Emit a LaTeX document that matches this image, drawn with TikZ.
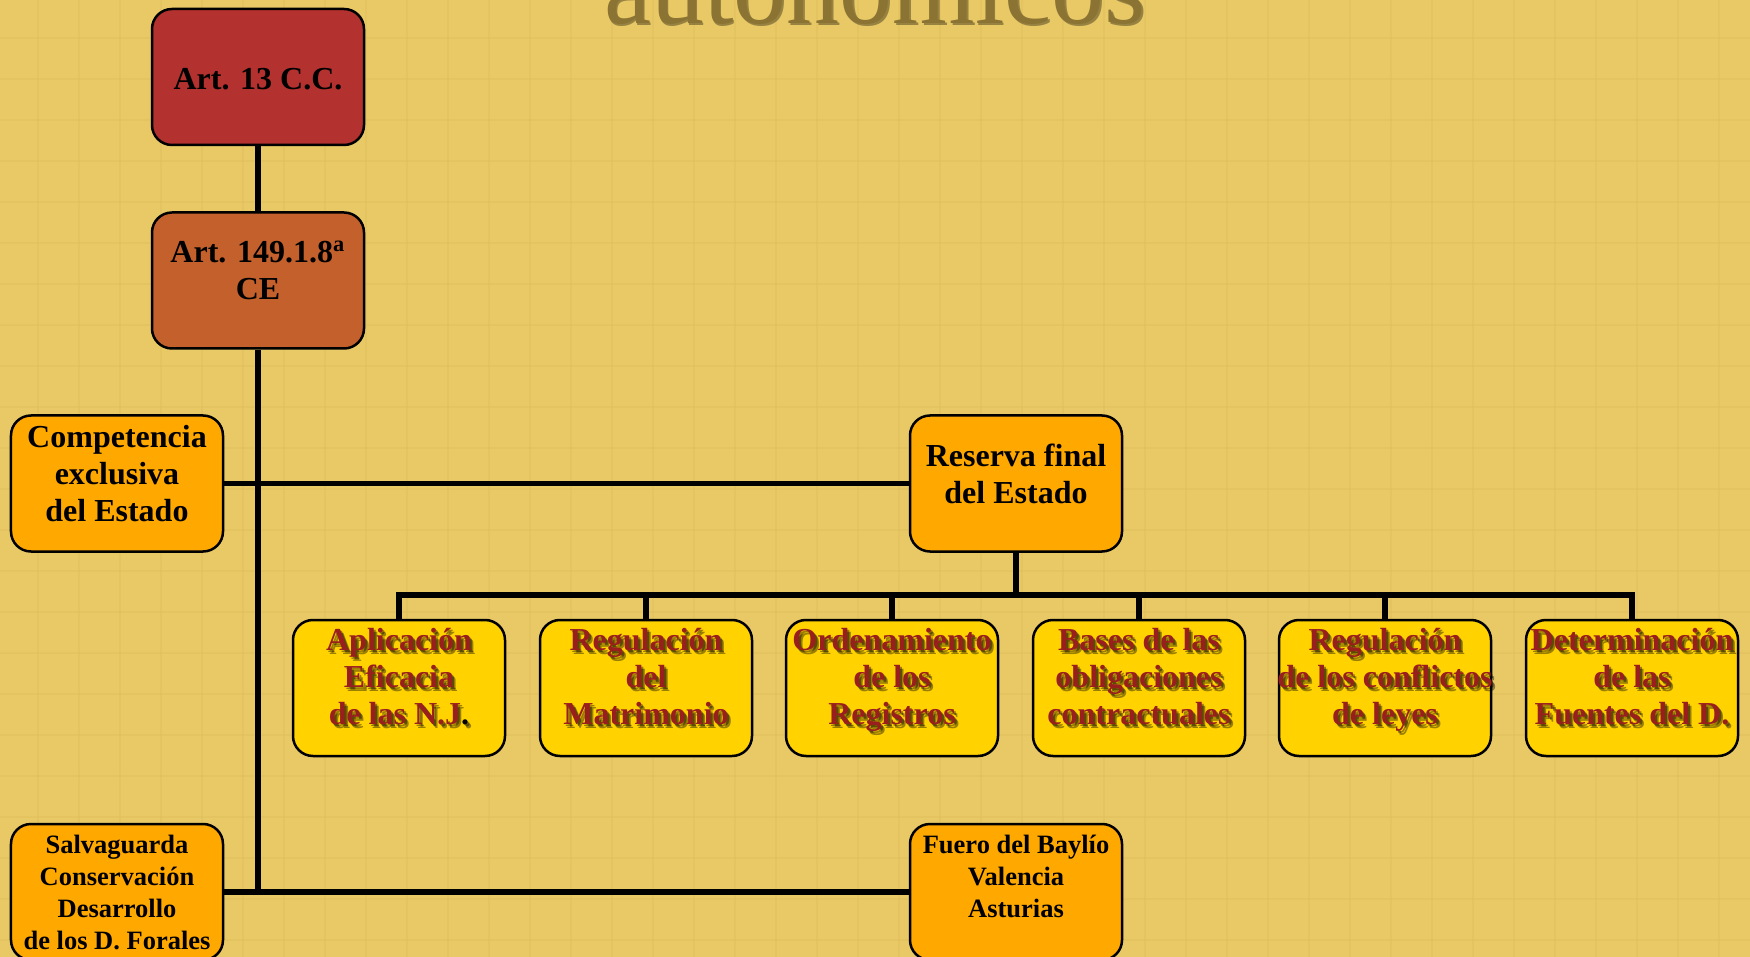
\documentclass[tikz,border=0pt]{standalone}
\usepackage{fontspec}
\setmainfont{Liberation Serif}
\definecolor{bg}{RGB}{232,201,102}
\definecolor{gridc}{RGB}{222,190,92}
\definecolor{cRed}{RGB}{179,49,46}
\definecolor{cRust}{RGB}{196,96,44}
\definecolor{cOrange}{RGB}{255,168,0}
\definecolor{cYellow}{RGB}{255,210,0}
\definecolor{cText}{RGB}{153,31,31}
\definecolor{cTitle}{RGB}{139,115,51}
\tikzset{
  box/.style={draw=black, line width=1pt, rounded corners=8pt,
    minimum width=84.8pt, minimum height=54.4pt, inner sep=0pt},
  redbox/.style={box, fill=cRed},
  rustbox/.style={box, fill=cRust},
  orangebox/.style={box, fill=cOrange},
  yellowbox/.style={box, fill=cYellow},
  bigtxt/.style={font=\fontsize{12.8pt}{14.8pt}\selectfont\bfseries, align=center, text=black, inner sep=0pt, text depth=0pt},
  smalltxt/.style={font=\fontsize{10.6pt}{12.8pt}\selectfont\bfseries, align=center, text=black, inner sep=0pt, text depth=0pt},
  ytxt/.style={font=\fontsize{12.8pt}{14.8pt}\selectfont\bfseries, align=center, text=cText, inner sep=0pt, text depth=0pt},
  yshadow/.style={ytxt, text=black, opacity=0.4},
  link/.style={line width=2.3pt, line join=miter},
  gridline/.style={line width=0.9pt, draw=gridc, opacity=0.45}
}
\newcommand\shnode[3]{%
  \node[yshadow] (#1sa) at ([xshift=1.4pt,yshift=-1.4pt]#2) {#3};
  \node[yshadow] (#1sb) at ([xshift=0.8pt,yshift=-0.8pt]#2) {#3};
  \node[ytxt] (#1) at (#2) {#3};
}
\begin{document}
\begin{tikzpicture}[x=0.4pt,y=-0.4pt]
\useasboundingbox (0,0) rectangle (1750,957);
\clip (0,0) rectangle (1750,957);
\fill[bg] (0,0) rectangle (1750,957);
\foreach \i in {0,...,42} \draw[gridline] ({38+41*\i},0) -- ({38+41*\i},957);
\foreach \j in {0,...,23} \draw[gridline] (0,{38+41*\j}) -- (1750,{38+41*\j});

% title (cut at top)
\node[anchor=base, inner sep=0pt, font=\fontsize{42.4pt}{50pt}\selectfont, text=black, opacity=0.35] (titles) at (876.5,26) {autonómicos};
\node[anchor=base, inner sep=0pt, font=\fontsize{42.4pt}{50pt}\selectfont, text=cTitle] (title) at (875,24) {autonómicos};

% boxes
\node[redbox] (art13) at (258,77) {};
\node[rustbox] (art149) at (258,280.5) {};
\node[orangebox] (comp) at (117,483.5) {};
\node[orangebox] (reserva) at (1016,483.5) {};
\node[yellowbox] (y1) at (399,688) {};
\node[yellowbox] (y2) at (646,688) {};
\node[yellowbox] (y3) at (892,688) {};
\node[yellowbox] (y4) at (1139,688) {};
\node[yellowbox] (y5) at (1385,688) {};
\node[yellowbox] (y6) at (1632,688) {};
\node[orangebox] (salv) at (117,892) {};
\node[orangebox] (fuero) at (1016,892) {};

% connectors
\coordinate (trunkend) at (258,892);
\coordinate (bus) at (1016,595);
\draw[link] (art13.south) -- (art149.north);
\draw[link] (art149.south) -- (trunkend);
\draw[link] (comp.east) -- (reserva.west);
\draw[link] (salv.east) -- (fuero.west);
\draw[link] (reserva.south) -- (bus);
\draw[link] (y1.north) -- (y1.north |- bus) -- (y6.north |- bus) -- (y6.north);
\foreach \n in {y2,y3,y4,y5} \draw[link] (\n.north) -- (\n.north |- bus);

% texts
\node[bigtxt] (t13) at (258,79) {Art. 13 C.C.};
\node[bigtxt] (t149) at (258,270) {Art. 149.1.8\textsuperscript{a}\\CE};
\node[bigtxt] (tcomp) at (117,473) {Competencia\\exclusiva\\del Estado};
\node[bigtxt] (tres) at (1016,474) {Reserva final\\del Estado};
\shnode{ty1}{399,676.5}{Aplicación\\Eficacia\\de las N.J{\color{black}.}}
\shnode{ty2}{646,676.5}{Regulación\\del\\Matrimonio}
\shnode{ty3}{892,676.5}{Ordenamiento\\de los\\Registros}
\shnode{ty4}{1139,676.5}{Bases de las\\obligaciones\\contractuales}
\shnode{ty5}{1385,676.5}{Regulación\\de los conflictos\\de leyes}
\shnode{ty6}{1632,676.5}{Determinación\\de las\\Fuentes del D.}
\node[smalltxt] (tsalv) at (117,892.5) {Salvaguarda\\Conservación\\Desarrollo\\de los D. Forales};
\node[smalltxt] (tfuero) at (1016,876.5) {Fuero del Baylío\\Valencia\\Asturias};
\end{tikzpicture}
\end{document}
